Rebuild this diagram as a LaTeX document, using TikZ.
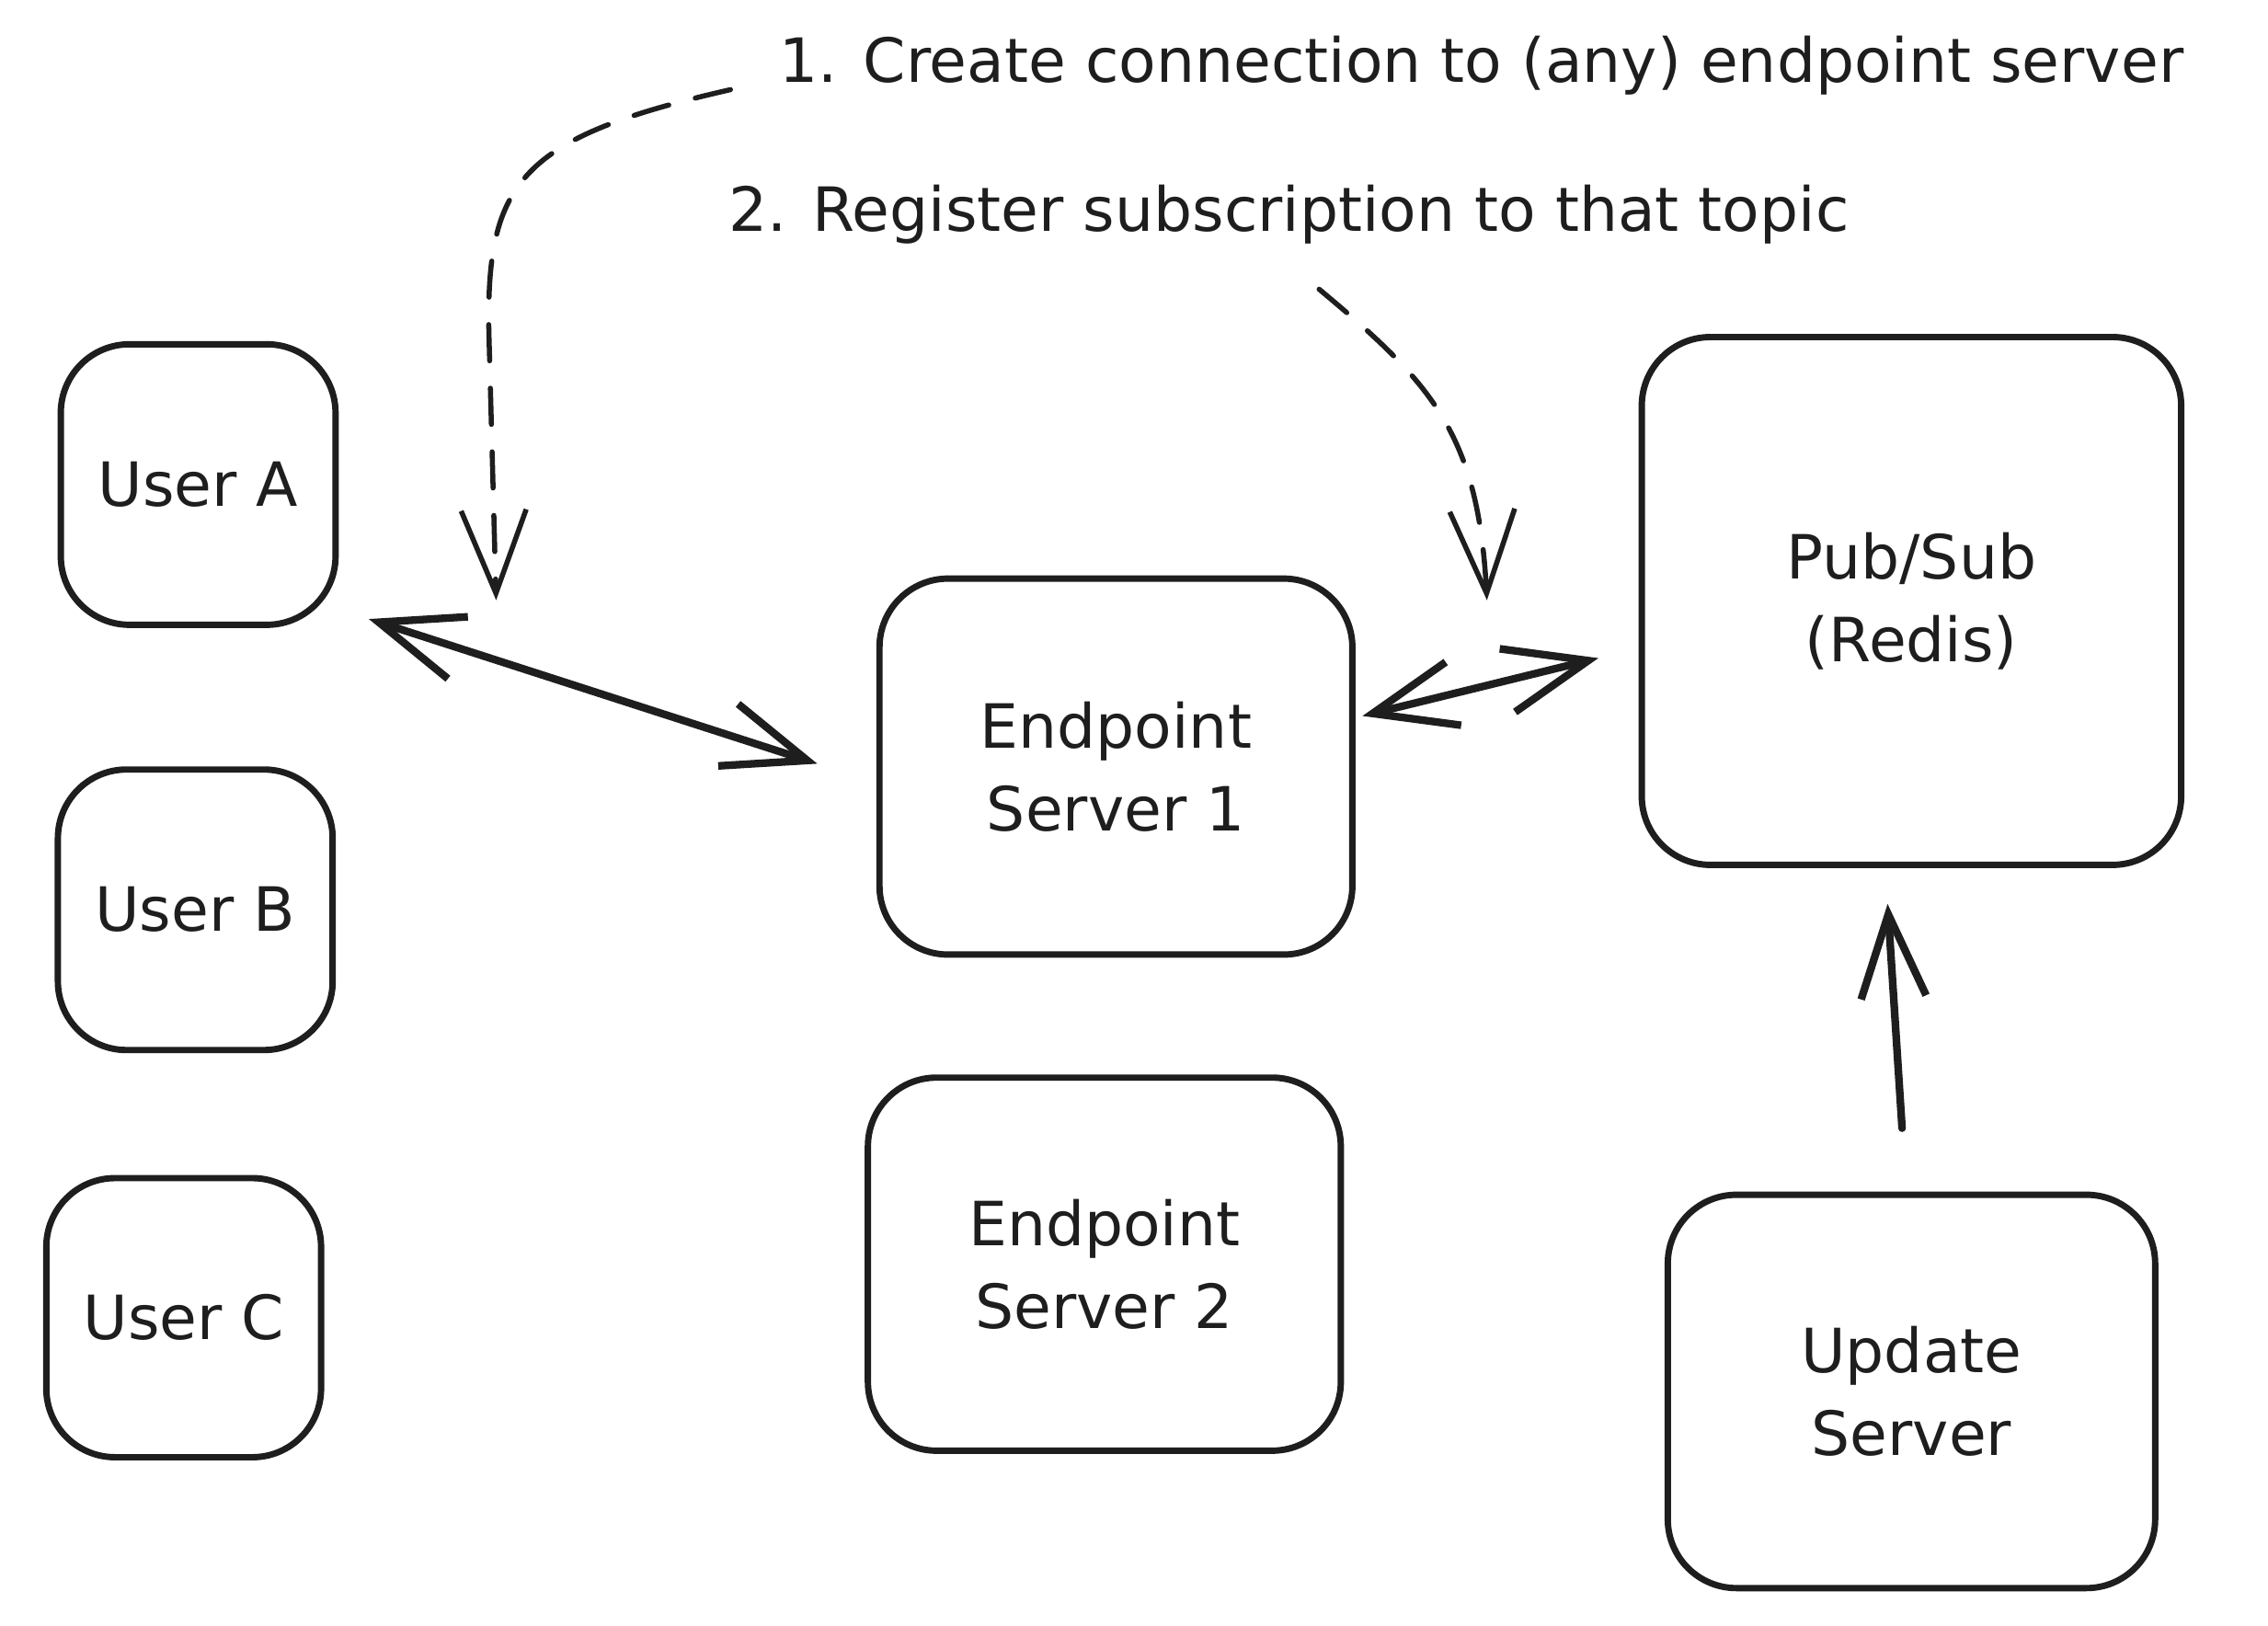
\documentclass[tikz,border=0pt]{standalone}
\usepackage{fontspec}
\setmainfont{DejaVu Sans}
\usetikzlibrary{arrows.meta,calc}
\definecolor{ink}{HTML}{1E1E1E}
\begin{document}
\begin{tikzpicture}[x=0.02cm,y=-0.02cm,
  >={Straight Barb[length=1.15cm,width=0.9cm]},
  box/.style={draw=ink, line width=2.5pt, rounded corners=0.95cm, inner sep=0pt, outer sep=0pt, align=center, text=ink, font=\fontsize{24}{32.5}\selectfont},
  lbl/.style={font=\fontsize{24}{30}\selectfont, inner sep=2pt, anchor=west, text=ink},
  link/.style={draw=ink, line width=3pt, line cap=round},
  dlink/.style={draw=ink, line width=2pt, line cap=round, dash pattern=on 0.5cm off 0.38cm}]
\path[use as bounding box, fill=white] (0,0) rectangle (1568,1124);

\node[box, minimum width=3.8cm, minimum height=3.88cm] (ua) at (137,335) {User A};
\node[box, minimum width=3.8cm, minimum height=3.88cm] (ub) at (135,629) {User B};
\node[box, minimum width=3.8cm, minimum height=3.86cm] (uc) at (127,911) {User C};
\node[box, minimum width=6.54cm, minimum height=5.2cm] (es1) at (771.5,530) {Endpoint\\Server 1};
\node[box, minimum width=6.54cm, minimum height=5.16cm] (es2) at (763.5,874) {Endpoint\\Server 2};
\node[box, minimum width=7.46cm, minimum height=7.3cm] (ps) at (1321.5,415.5) {Pub/Sub\\(Redis)};
\node[box, minimum width=6.74cm, minimum height=5.44cm] (upd) at (1321.5,962) {Update\\Server};

\node[lbl] (l1) at (535,45) {1. Create connection to (any) endpoint server};
\node[lbl] (l2) at (500,148) {2. Register subscription to that topic};

\draw[link,<->] ($(ua.south east)+(23,-4)$) -- ($(es1.west)+(-43,-2)$);
\draw[link,<->] ($(es1.east)+(7,-35)$) -- ($(ps.west)+(-30,39.5)$);
\draw[link,->] ($(upd.north)+(-6.5,-46)$) -- ($(ps.south)+(-16.5,27)$);

\coordinate (t1) at (343,415);
\coordinate (t2) at (1028,415);
\draw[dlink,->] ($(l1.west)+(-30,17)$) .. controls (360,95) and (336,125) .. (338,230) -- (t1);
\draw[dlink,->] ($(l2.west)+(412,52)$) .. controls (990,265) and (1022,300) .. (t2);
\end{tikzpicture}
\end{document}
